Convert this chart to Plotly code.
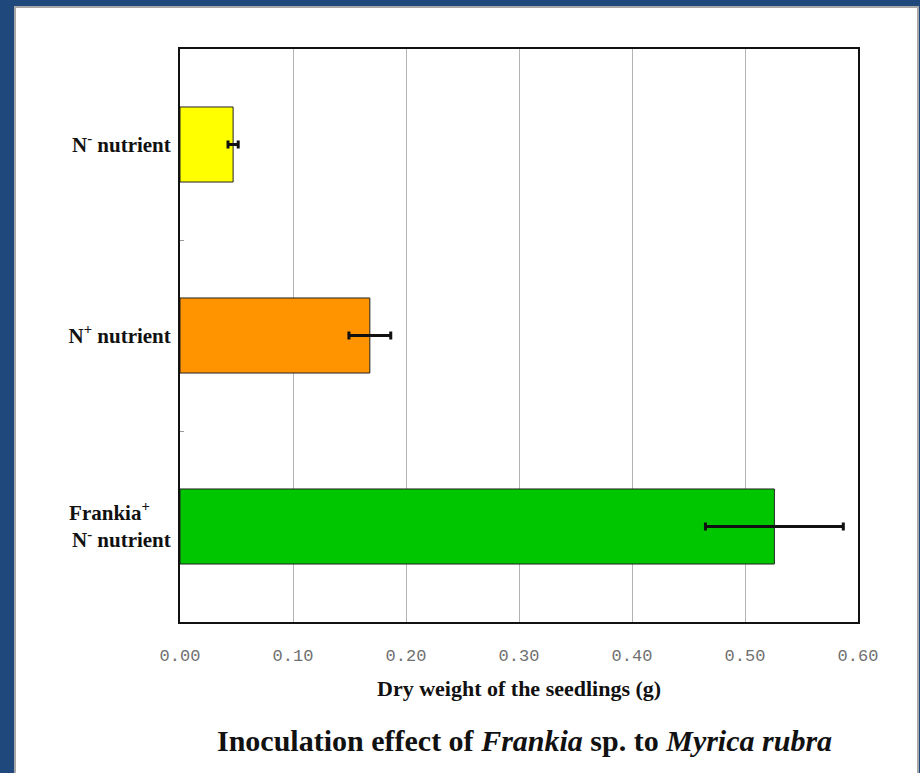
import plotly.graph_objects as go

# Seedling dry weight by treatment (g), with error bars
categories = ["N<sup>-</sup> nutrient", "N<sup>+</sup> nutrient", "Frankia<sup>+</sup>    <br>N<sup>-</sup> nutrient"]
dry_weight = [0.047, 0.168, 0.526]
error = [0.0045, 0.0185, 0.061]
bar_colors = ["#ffff00", "#ff9400", "#00c600"]
x_ticks = [0.0, 0.1, 0.2, 0.3, 0.4, 0.5, 0.6]
x_tick_text = ["0.00", "0.10", "0.20", "0.30", "0.40", "0.50", "0.60"]

W, H = 920, 773
L, R, T, B = 180, 62, 49, 151
pw, ph = W - L - R, H - T - B


def px(x):
    return (x - L) / pw


def py(y):
    return (H - B - y) / ph


fig = go.Figure()
fig.add_trace(go.Bar(
    x=dry_weight,
    y=categories,
    orientation="h",
    marker=dict(color=bar_colors, line=dict(color="#222222", width=1)),
    error_x=dict(type="data", array=error, color="#111111", thickness=3, width=4),
    showlegend=False,
))

serif = "Liberation Serif, Times New Roman, serif"

fig.update_layout(
    width=W, height=H,
    margin=dict(l=L, r=R, t=T, b=B, pad=0),
    paper_bgcolor="#1f497d",
    plot_bgcolor="white",
    bargap=0.607,
    xaxis=dict(
        range=[0, 0.6],
        tickvals=x_ticks,
        ticktext=x_tick_text,
        showgrid=True, gridcolor="#b4b4b4", gridwidth=1,
        zeroline=False,
        showline=True, linecolor="#111111", linewidth=2, mirror=True,
        ticks="", ticklabelstandoff=17,
        tickfont=dict(family="Liberation Mono, DejaVu Sans Mono, monospace", size=17, color="#707070"),
    ),
    yaxis=dict(
        categoryorder="array", categoryarray=categories,
        autorange="reversed",
        showgrid=False, zeroline=False,
        showline=True, linecolor="#111111", linewidth=2, mirror=True,
        ticks="inside", tickson="boundaries", ticklen=4, tickcolor="#999999",
        ticklabelstandoff=3,
        tickfont=dict(family=serif, size=21, color="#111111", weight="bold"),
    ),
    shapes=[
        dict(type="rect", xref="paper", yref="paper",
             x0=px(15), x1=px(918), y0=py(H + 5), y1=py(7),
             fillcolor="white", line=dict(color="#a8a8a8", width=2), layer="below"),
    ],
    annotations=[
        dict(text="<b>Dry weight of the seedlings (g)</b>", xref="paper", yref="paper",
             x=px(519), y=py(688), xanchor="center", yanchor="middle", showarrow=False,
             font=dict(family=serif, size=22, color="#111111")),
        dict(text="<b>Inoculation effect of <i>Frankia</i> sp. to <i>Myrica rubra</i></b>",
             xref="paper", yref="paper",
             x=px(524), y=py(740), xanchor="center", yanchor="middle", showarrow=False,
             font=dict(family=serif, size=30, color="#111111")),
    ],
)

fig.write_html("out.html")
